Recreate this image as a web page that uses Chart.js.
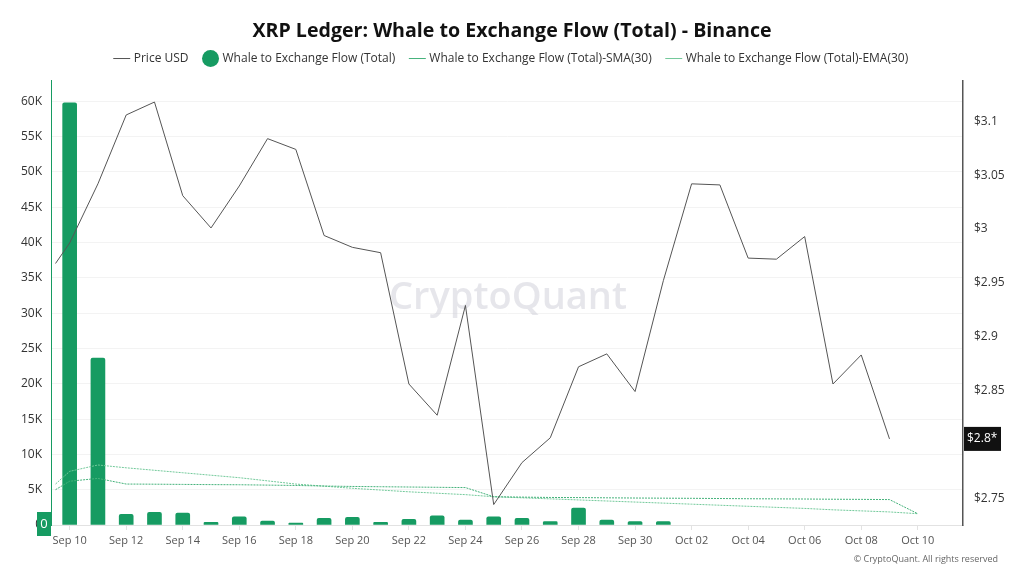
<!DOCTYPE html>
<html>
<head>
<meta charset="utf-8">
<title>XRP Ledger: Whale to Exchange Flow (Total) - Binance</title>
<script src="https://cdn.jsdelivr.net/npm/chart.js@4.4.1/dist/chart.umd.min.js"></script>
<style>
  html, body { margin: 0; padding: 0; background: #fff; }
  #wrap { width: 1024px; height: 576px; position: relative; }
</style>
</head>
<body>
<div id="wrap"><canvas id="flowChart"></canvas></div>
<script>
// ========== DATA (day offsets counted from Sep 10) ==========

const priceDays = [-0.5, 0, 1, 2, 3, 4, 5, 6, 7, 8, 9, 10, 11, 12, 13, 14, 15, 16, 17, 18, 19, 20, 21, 22, 23, 24, 25, 26, 27, 28, 29];
const priceUsd = [2.968, 2.987, 3.042, 3.106, 3.118, 3.031, 3.001, 3.040, 3.084, 3.074, 2.994, 2.983, 2.978, 2.856, 2.827, 2.929,
                  2.744, 2.783, 2.806, 2.872, 2.884, 2.849, 2.952, 3.042, 3.041, 2.973, 2.972, 2.993, 2.856, 2.883, 2.805];

const flowDays = [0, 1, 2, 3, 4, 5, 6, 7, 8, 9, 10, 11, 12, 13, 14, 15, 16, 17, 18, 19, 20, 21, 22, 23, 24, 25, 26, 27, 28, 29, 30];
const flowTotal = [59800, 23650, 1500, 1800, 1700, 370, 1170, 560, 280, 930, 1070, 370, 800, 1300, 700, 1170,
                   930, 470, 2400, 700, 500, 500, 0, 0, 0, 0, 0, 0, 0, 0, 0];

const maDays = [-0.5, 0, 1, 2, 3, 4, 5, 6, 7, 8, 9, 10, 11, 12, 13, 14, 15, 16, 17, 18, 19, 20, 21, 22, 23, 24, 25, 26, 27, 28, 29, 30];
const smaValues = [5000, 6200, 6600, 5800, 5780, 5750, 5720, 5700, 5650, 5600, 5520, 5460, 5420, 5380, 5340, 5300,
                   4000, 3950, 3900, 3880, 3850, 3820, 3800, 3780, 3750, 3720, 3700, 3680, 3650, 3630, 3600, 1600];
const emaValues = [5800, 7600, 8500, 8100, 7750, 7400, 7050, 6700, 6250, 5800, 5500, 5200, 4950, 4700, 4500, 4300,
                   4000, 3850, 3700, 3550, 3400, 3250, 3100, 2950, 2800, 2650, 2500, 2350, 2150, 2000, 1850, 1600];

const xTickDays = [0, 2, 4, 6, 8, 10, 12, 14, 16, 18, 20, 22, 24, 26, 28, 30];
const xTickLabels = ['Sep 10', 'Sep 12', 'Sep 14', 'Sep 16', 'Sep 18', 'Sep 20', 'Sep 22', 'Sep 24',
                     'Sep 26', 'Sep 28', 'Sep 30', 'Oct 02', 'Oct 04', 'Oct 06', 'Oct 08', 'Oct 10'];
const flowTicks = [0, 5000, 10000, 15000, 20000, 25000, 30000, 35000, 40000, 45000, 50000, 55000, 60000];
const priceTicks = [2.75, 2.8, 2.85, 2.9, 2.95, 3, 3.05, 3.1];

const FONT = "'Open Sans', 'Noto Sans', sans-serif";
const GREEN = '#169b62';

function pairs(xs, ys) {
    return xs.map((x, i) => ({ x: x, y: ys[i] }));
}

function fmtFlow(v) {
    return v === 0 ? '0' : (v / 1000) + 'K';
}

// ========== EXTRA DRAWING ==========

const decorPlugin = {
    id: 'decor',
    beforeInit(chart) {
        // leave a little room between the legend and the plot
        const fit = chart.legend.fit;
        chart.legend.fit = function () {
            fit.call(this);
            this.height += 6;
        };
    },
    beforeDatasetsDraw(chart) {
        const { ctx, chartArea } = chart;
        ctx.save();
        ctx.font = "600 38px " + FONT;
        ctx.fillStyle = 'rgba(205, 205, 216, 0.5)';
        ctx.textAlign = 'center';
        ctx.textBaseline = 'middle';
        ctx.fillText('CryptoQuant', (chartArea.left + chartArea.right) / 2 + 1, 298);
        ctx.restore();
    },
    afterDraw(chart) {
        const { ctx, scales } = chart;
        ctx.save();
        ctx.textBaseline = 'middle';

        // latest flow value tag
        ctx.font = "13px " + FONT;
        const lastFlow = flowTotal[flowTotal.length - 1];
        const fy = scales.y.getPixelForValue(lastFlow);
        const fx = scales.y.right;
        ctx.fillStyle = GREEN;
        ctx.fillRect(fx - 14, fy - 13, 14, 24);
        ctx.fillStyle = '#fff';
        ctx.textAlign = 'center';
        ctx.fillText(fmtFlow(lastFlow), fx - 7, fy - 1);

        // latest price tag
        ctx.font = "12px " + FONT;
        const lastPrice = priceUsd[priceUsd.length - 1];
        const py = scales.price.getPixelForValue(lastPrice);
        const px = scales.price.left + 1;
        ctx.fillStyle = '#111';
        ctx.fillRect(px, py - 12, 37, 24);
        ctx.fillStyle = '#fff';
        ctx.textAlign = 'left';
        ctx.fillText('$' + lastPrice.toFixed(1) + '*', px + 3, py);

        // footer
        ctx.font = "9px " + FONT;
        ctx.fillStyle = '#666';
        ctx.textAlign = 'right';
        ctx.fillText('\u00A9 CryptoQuant. All rights reserved', 998, 559);
        ctx.restore();
    }
};

// ========== CHART ==========

Chart.defaults.font.family = FONT;
Chart.defaults.color = '#444';

new Chart(document.getElementById('flowChart').getContext('2d'), {
    data: {
        datasets: [
            {
                type: 'line',
                label: 'Price USD',
                data: pairs(priceDays, priceUsd),
                yAxisID: 'price',
                borderColor: '#555',
                borderWidth: 1,
                pointRadius: 0,
                tension: 0,
                pointStyle: 'line',
                order: 0
            },
            {
                type: 'bar',
                label: 'Whale to Exchange Flow (Total)',
                data: pairs(flowDays, flowTotal).filter(p => p.y > 0),
                yAxisID: 'y',
                backgroundColor: GREEN,
                barThickness: 14,
                borderRadius: { topLeft: 2, topRight: 2 },
                borderSkipped: 'start',
                pointStyle: 'circle',
                order: 3
            },
            {
                type: 'line',
                label: 'Whale to Exchange Flow (Total)-SMA(30)',
                data: pairs(maDays, smaValues),
                yAxisID: 'y',
                borderColor: '#45b27b',
                borderWidth: 1,
                borderDash: [2, 1],
                pointRadius: 0,
                tension: 0,
                pointStyle: 'line',
                order: 1
            },
            {
                type: 'line',
                label: 'Whale to Exchange Flow (Total)-EMA(30)',
                data: pairs(maDays, emaValues),
                yAxisID: 'y',
                borderColor: '#72c99a',
                borderWidth: 1,
                borderDash: [2, 1],
                pointRadius: 0,
                tension: 0,
                pointStyle: 'line',
                order: 2
            }
        ]
    },
    options: {
        responsive: true,
        maintainAspectRatio: false,
        animation: false,
        layout: { padding: { top: 20, left: 0, right: 0, bottom: 0 } },
        plugins: {
            title: {
                display: true,
                text: 'XRP Ledger: Whale to Exchange Flow (Total) - Binance',
                color: '#111',
                font: { size: 19.6, weight: 'bold' },
                padding: { top: 0, bottom: -7 }
            },
            legend: {
                position: 'top',
                labels: {
                    usePointStyle: true,
                    boxWidth: 12,
                    boxHeight: 12,
                    padding: 16,
                    color: '#333',
                    font: { size: 12 },
                    sort: (a, b) => a.datasetIndex - b.datasetIndex
                }
            },
            tooltip: { enabled: false }
        },
        scales: {
            x: {
                type: 'linear',
                offset: false,
                min: -0.66,
                max: 31.6,
                afterBuildTicks: scale => { scale.ticks = xTickDays.map(v => ({ value: v })); },
                afterFit: scale => { scale.height = 51; },
                ticks: {
                    color: '#555',
                    font: { size: 11 },
                    padding: 4,
                    maxRotation: 0,
                    autoSkip: false,
                    callback: v => xTickLabels[xTickDays.indexOf(v)]
                },
                grid: { offset: false, drawOnChartArea: false, drawTicks: true, tickLength: 5, color: '#e2e2e2' },
                border: { color: '#e2e2e2' }
            },
            y: {
                type: 'linear',
                position: 'left',
                min: 0,
                max: 62950,
                afterBuildTicks: scale => { scale.ticks = flowTicks.map(v => ({ value: v })); },
                afterFit: scale => { scale.width = 51; },
                ticks: {
                    color: '#333',
                    font: { size: 12 },
                    padding: 9,
                    callback: v => fmtFlow(v)
                },
                grid: { color: '#f3f3f3', drawTicks: false },
                border: { color: GREEN, width: 1 }
            },
            price: {
                type: 'linear',
                position: 'right',
                min: 2.725,
                max: 3.138,
                afterBuildTicks: scale => { scale.ticks = priceTicks.map(v => ({ value: v })); },
                afterFit: scale => { scale.width = 61; },
                ticks: {
                    color: '#333',
                    font: { size: 12 },
                    padding: 11,
                    callback: v => '$' + v
                },
                grid: { drawOnChartArea: false, drawTicks: false },
                border: { color: '#555', width: 1.5 }
            }
        }
    },
    plugins: [decorPlugin]
});
</script>
</body>
</html>
